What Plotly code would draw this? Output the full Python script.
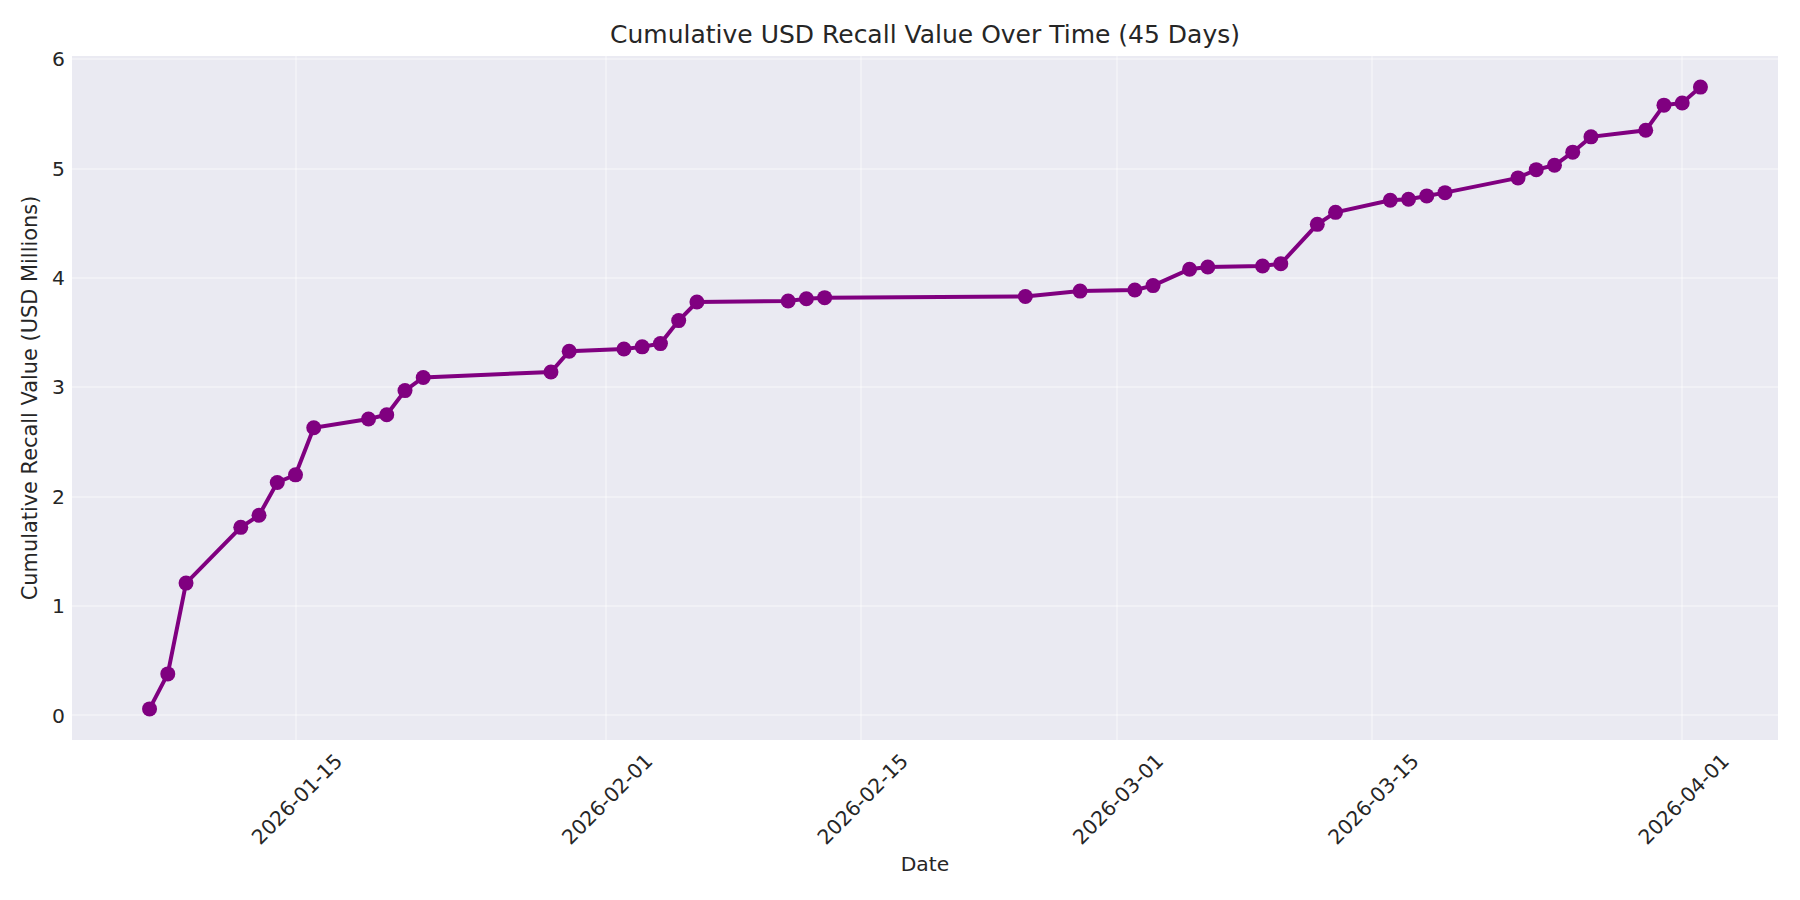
import plotly.graph_objects as go
import pandas as pd

# ---- data ----
dates = [
    "2026-01-07", "2026-01-08", "2026-01-09", "2026-01-12", "2026-01-13",
    "2026-01-14", "2026-01-15", "2026-01-16", "2026-01-19", "2026-01-20",
    "2026-01-21", "2026-01-22", "2026-01-29", "2026-01-30", "2026-02-02",
    "2026-02-03", "2026-02-04", "2026-02-05", "2026-02-06", "2026-02-11",
    "2026-02-12", "2026-02-13", "2026-02-24", "2026-02-27", "2026-03-02",
    "2026-03-03", "2026-03-05", "2026-03-06", "2026-03-09", "2026-03-10",
    "2026-03-12", "2026-03-13", "2026-03-16", "2026-03-17", "2026-03-18",
    "2026-03-19", "2026-03-23", "2026-03-24", "2026-03-25", "2026-03-26",
    "2026-03-27", "2026-03-30", "2026-03-31", "2026-04-01", "2026-04-02",
]
cumulative_musd = [
    0.06, 0.38, 1.21, 1.72, 1.83,
    2.13, 2.20, 2.63, 2.71, 2.75,
    2.97, 3.09, 3.14, 3.33, 3.35,
    3.37, 3.40, 3.61, 3.78, 3.79,
    3.81, 3.82, 3.83, 3.88, 3.89,
    3.93, 4.08, 4.10, 4.11, 4.13,
    4.49, 4.60, 4.71, 4.72, 4.75,
    4.78, 4.915, 4.99, 5.03, 5.15,
    5.29, 5.35, 5.58, 5.60, 5.745,
]
x_tick_dates = ["2026-01-15", "2026-02-01", "2026-02-15", "2026-03-01", "2026-03-15", "2026-04-01"]
y_tick_vals = [0, 1, 2, 3, 4, 5, 6]

# ---- ranges with 5% padding (matplotlib-like autoscale) ----
dts = pd.to_datetime(dates)
span = dts.max() - dts.min()
x_range = [dts.min() - span * 0.05, dts.max() + span * 0.05]
ymin, ymax = min(cumulative_musd), max(cumulative_musd)
ypad = (ymax - ymin) * 0.05
y_range = [ymin - ypad, ymax + ypad]

TEXT = "#262626"
FONT = "DejaVu Sans"

fig = go.Figure()
fig.add_trace(go.Scatter(
    x=dts, y=cumulative_musd,
    mode="lines+markers",
    line=dict(color="#800080", width=4),
    marker=dict(color="#800080", size=15),
    showlegend=False,
))

fig.update_layout(
    width=1800, height=900,
    margin=dict(l=64, r=30, t=48, b=168, autoexpand=False),
    paper_bgcolor="white",
    plot_bgcolor="#EAEAF2",
    font=dict(family=FONT, color=TEXT, size=19),
    title=dict(
        text="Cumulative USD Recall Value Over Time (45 Days)",
        x=0.5, xref="paper", xanchor="center",
        y=1 - 26.5 / 900, yref="container", yanchor="middle",
        font=dict(family=FONT, size=25, color=TEXT),
    ),
    xaxis=dict(
        type="date",
        range=x_range,
        tickvals=pd.to_datetime(x_tick_dates),
        ticktext=x_tick_dates,
        tickangle=-45,
        tickfont=dict(family=FONT, size=20.3, color=TEXT),
        ticklabelshift=41,
        ticklabelstandoff=4,
        showgrid=True,
        gridcolor="rgba(255,255,255,0.35)",
        gridwidth=1.5,
        zeroline=False,
        showline=False,
        ticks="",
        title=dict(text="Date", font=dict(family=FONT, size=20.3, color=TEXT), standoff=8),
        automargin=False,
    ),
    yaxis=dict(
        range=y_range,
        tickvals=y_tick_vals,
        tickfont=dict(family=FONT, size=20.3, color=TEXT),
        showgrid=True,
        gridcolor="rgba(255,255,255,0.35)",
        gridwidth=1.5,
        zeroline=False,
        showline=False,
        ticks="",
        ticklabelstandoff=6,
        title=dict(text="Cumulative Recall Value (USD Millions)",
                   font=dict(family=FONT, size=20.9, color=TEXT), standoff=8),
        automargin=False,
    ),
)

fig.write_html("out.html")
